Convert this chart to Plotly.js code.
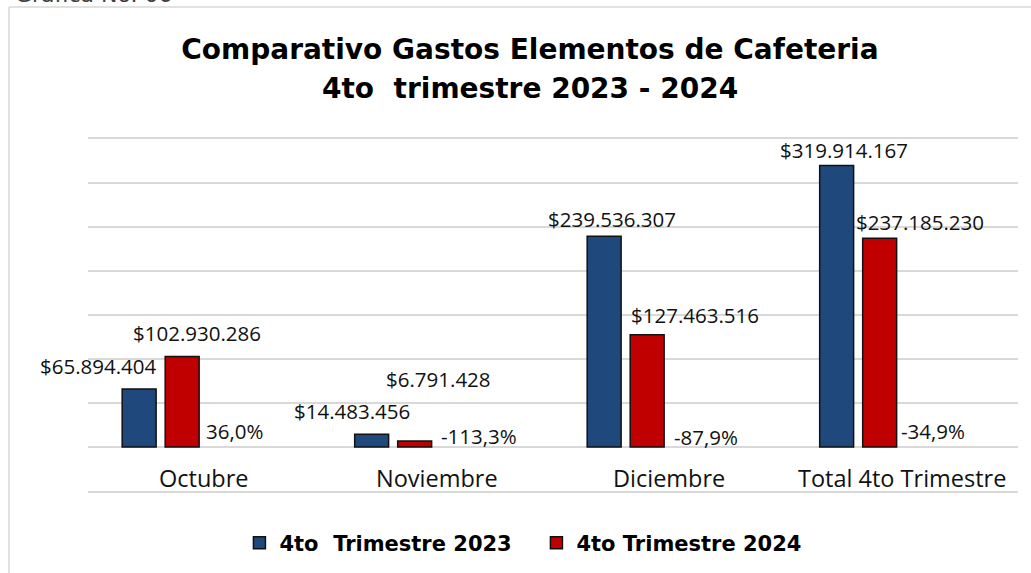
<!DOCTYPE html>
<html><head><meta charset="utf-8">
<script src="https://cdn.plot.ly/plotly-3.0.1.min.js"></script>
<style>html,body{margin:0;padding:0;background:#fff;overflow:hidden;} #chart{width:1031px;height:573px;}</style>
</head><body><div id="chart"></div>
<script>
// ---- data ----
const categories = ['Octubre', 'Noviembre', 'Diciembre', 'Total 4to Trimestre'];
const values2023 = [65894404, 14483456, 239536307, 319914167];
const values2024 = [102930286, 6791428, 127463516, 237185230];
const variationPct = [36.0, -113.3, -87.9, -34.9];
const seriesNames = ['4to\u00a0 Trimestre 2023', '4to Trimestre 2024'];
const titleLines = ['Comparativo Gastos Elementos de Cafeteria', '4to\u00a0 trimestre 2023 - 2024'];
const caption = 'Grafica No. 06';

// ---- formatting helpers ----
function money(v){ return '$' + String(v).replace(/\B(?=(\d{3})+(?!\d))/g, '.'); }
function pct(v){ return v.toFixed(1).replace('.', ',') + '%'; }

// ---- style / label placement (pixels relative to category centre / bar top) ----
const BLUE = '#1f497d', RED = '#c00000', GRID = '#d9d9d9';
const labelFont = {family: 'Open Sans, sans-serif', size: 20.5, color: '#111'};
const titleFont = {family: 'DejaVu Sans, sans-serif', size: 28, color: '#000'};
const shift2023 = [[-106, 23], [-85, 23], [-57, 17], [-58, 15]];
const shift2024 = [[-7, 23], [2, 62], [26, 20], [18, 16]];
const shiftPct = [[30, 16], [42, 11], [37, 10], [31, 16]];

const traces = [
  {type: 'bar', name: seriesNames[0], x: categories, y: values2023,
   width: 0.146, offset: -0.353,
   marker: {color: BLUE, line: {color: '#111', width: 1.5}}, hoverinfo: 'y'},
  {type: 'bar', name: seriesNames[1], x: categories, y: values2024,
   width: 0.146, offset: -0.168,
   marker: {color: RED, line: {color: '#111', width: 1.5}}, hoverinfo: 'y'}
];

const annotations = [];
categories.forEach((c, i) => {
  annotations.push({x: c, y: values2023[i], xref: 'x', yref: 'y', text: money(values2023[i]),
    showarrow: false, xanchor: 'center', yanchor: 'middle', xshift: shift2023[i][0], yshift: shift2023[i][1], font: labelFont});
  annotations.push({x: c, y: values2024[i], xref: 'x', yref: 'y', text: money(values2024[i]),
    showarrow: false, xanchor: 'center', yanchor: 'middle', xshift: shift2024[i][0], yshift: shift2024[i][1], font: labelFont});
  annotations.push({x: c, y: 0, xref: 'x', yref: 'y', text: pct(variationPct[i]),
    showarrow: false, xanchor: 'center', yanchor: 'middle', xshift: shiftPct[i][0], yshift: shiftPct[i][1], font: labelFont});
  annotations.push({x: c, y: 0, xref: 'x', yref: 'y', text: c,
    showarrow: false, xanchor: 'center', yanchor: 'middle', yshift: -31,
    font: {family: 'Open Sans, sans-serif', size: 23.5, color: '#111'}});
});
// second title line
annotations.push({x: 0.5, y: (491 - 88) / 352, xref: 'paper', yref: 'paper', text: '<b>' + titleLines[1] + '</b>',
  showarrow: false, xanchor: 'center', yanchor: 'middle', xshift: (530 - 553), font: titleFont});
// chart caption, mostly cut off at the top edge as in the reference
annotations.push({x: (13 - 88) / 930, y: (491 + 5) / 352, xref: 'paper', yref: 'paper', text: caption, showarrow: false,
  xanchor: 'left', yanchor: 'middle', font: {family: 'DejaVu Sans, sans-serif', size: 22, color: '#404040'}});

const layout = {
  width: 1031, height: 573,
  margin: {l: 88, r: 13, t: 139, b: 82, pad: 0, autoexpand: false},
  paper_bgcolor: '#fff', plot_bgcolor: '#fff',
  showlegend: true,
  title: {text: '<b>' + titleLines[0] + '</b>',
          x: 0.514, xanchor: 'center', y: 1 - 39 / 573, yanchor: 'top', yref: 'container',
          font: titleFont},
  barmode: 'overlay',
  xaxis: {type: 'category', range: [-0.5, 3.5], showticklabels: false, showgrid: false,
          zeroline: false, showline: true, mirror: true, linecolor: GRID, linewidth: 2, ticks: ''},
  yaxis: {range: [-50e6, 350e6], tick0: 0, dtick: 50e6, showticklabels: false,
          showgrid: true, gridcolor: GRID, gridwidth: 2,
          zeroline: true, zerolinecolor: GRID, zerolinewidth: 2, showline: false, ticks: ''},
  legend: {orientation: 'h', xref: 'container', yref: 'container', x: 0.5203, xanchor: 'center',
           y: (573 - 543) / 573, yanchor: 'middle',
           font: {family: 'DejaVu Sans, sans-serif', size: 21, color: '#000', weight: 'bold'},
           itemwidth: 30, traceorder: 'normal', entrywidth: 252, entrywidthmode: 'pixels'},
  annotations: annotations,
  shapes: [
    {type: 'line', xref: 'paper', yref: 'paper', x0: -79/930, x1: 1.02, y0: (491-7)/352, y1: (491-7)/352,
     line: {color: GRID, width: 1.5}},
    {type: 'line', xref: 'paper', yref: 'paper', x0: -79/930, x1: -79/930, y0: (491-7)/352, y1: -0.3,
     line: {color: GRID, width: 1.5}}
  ]
};

Plotly.newPlot('chart', traces, layout, {displayModeBar: false, staticPlot: true});
</script></body></html>
